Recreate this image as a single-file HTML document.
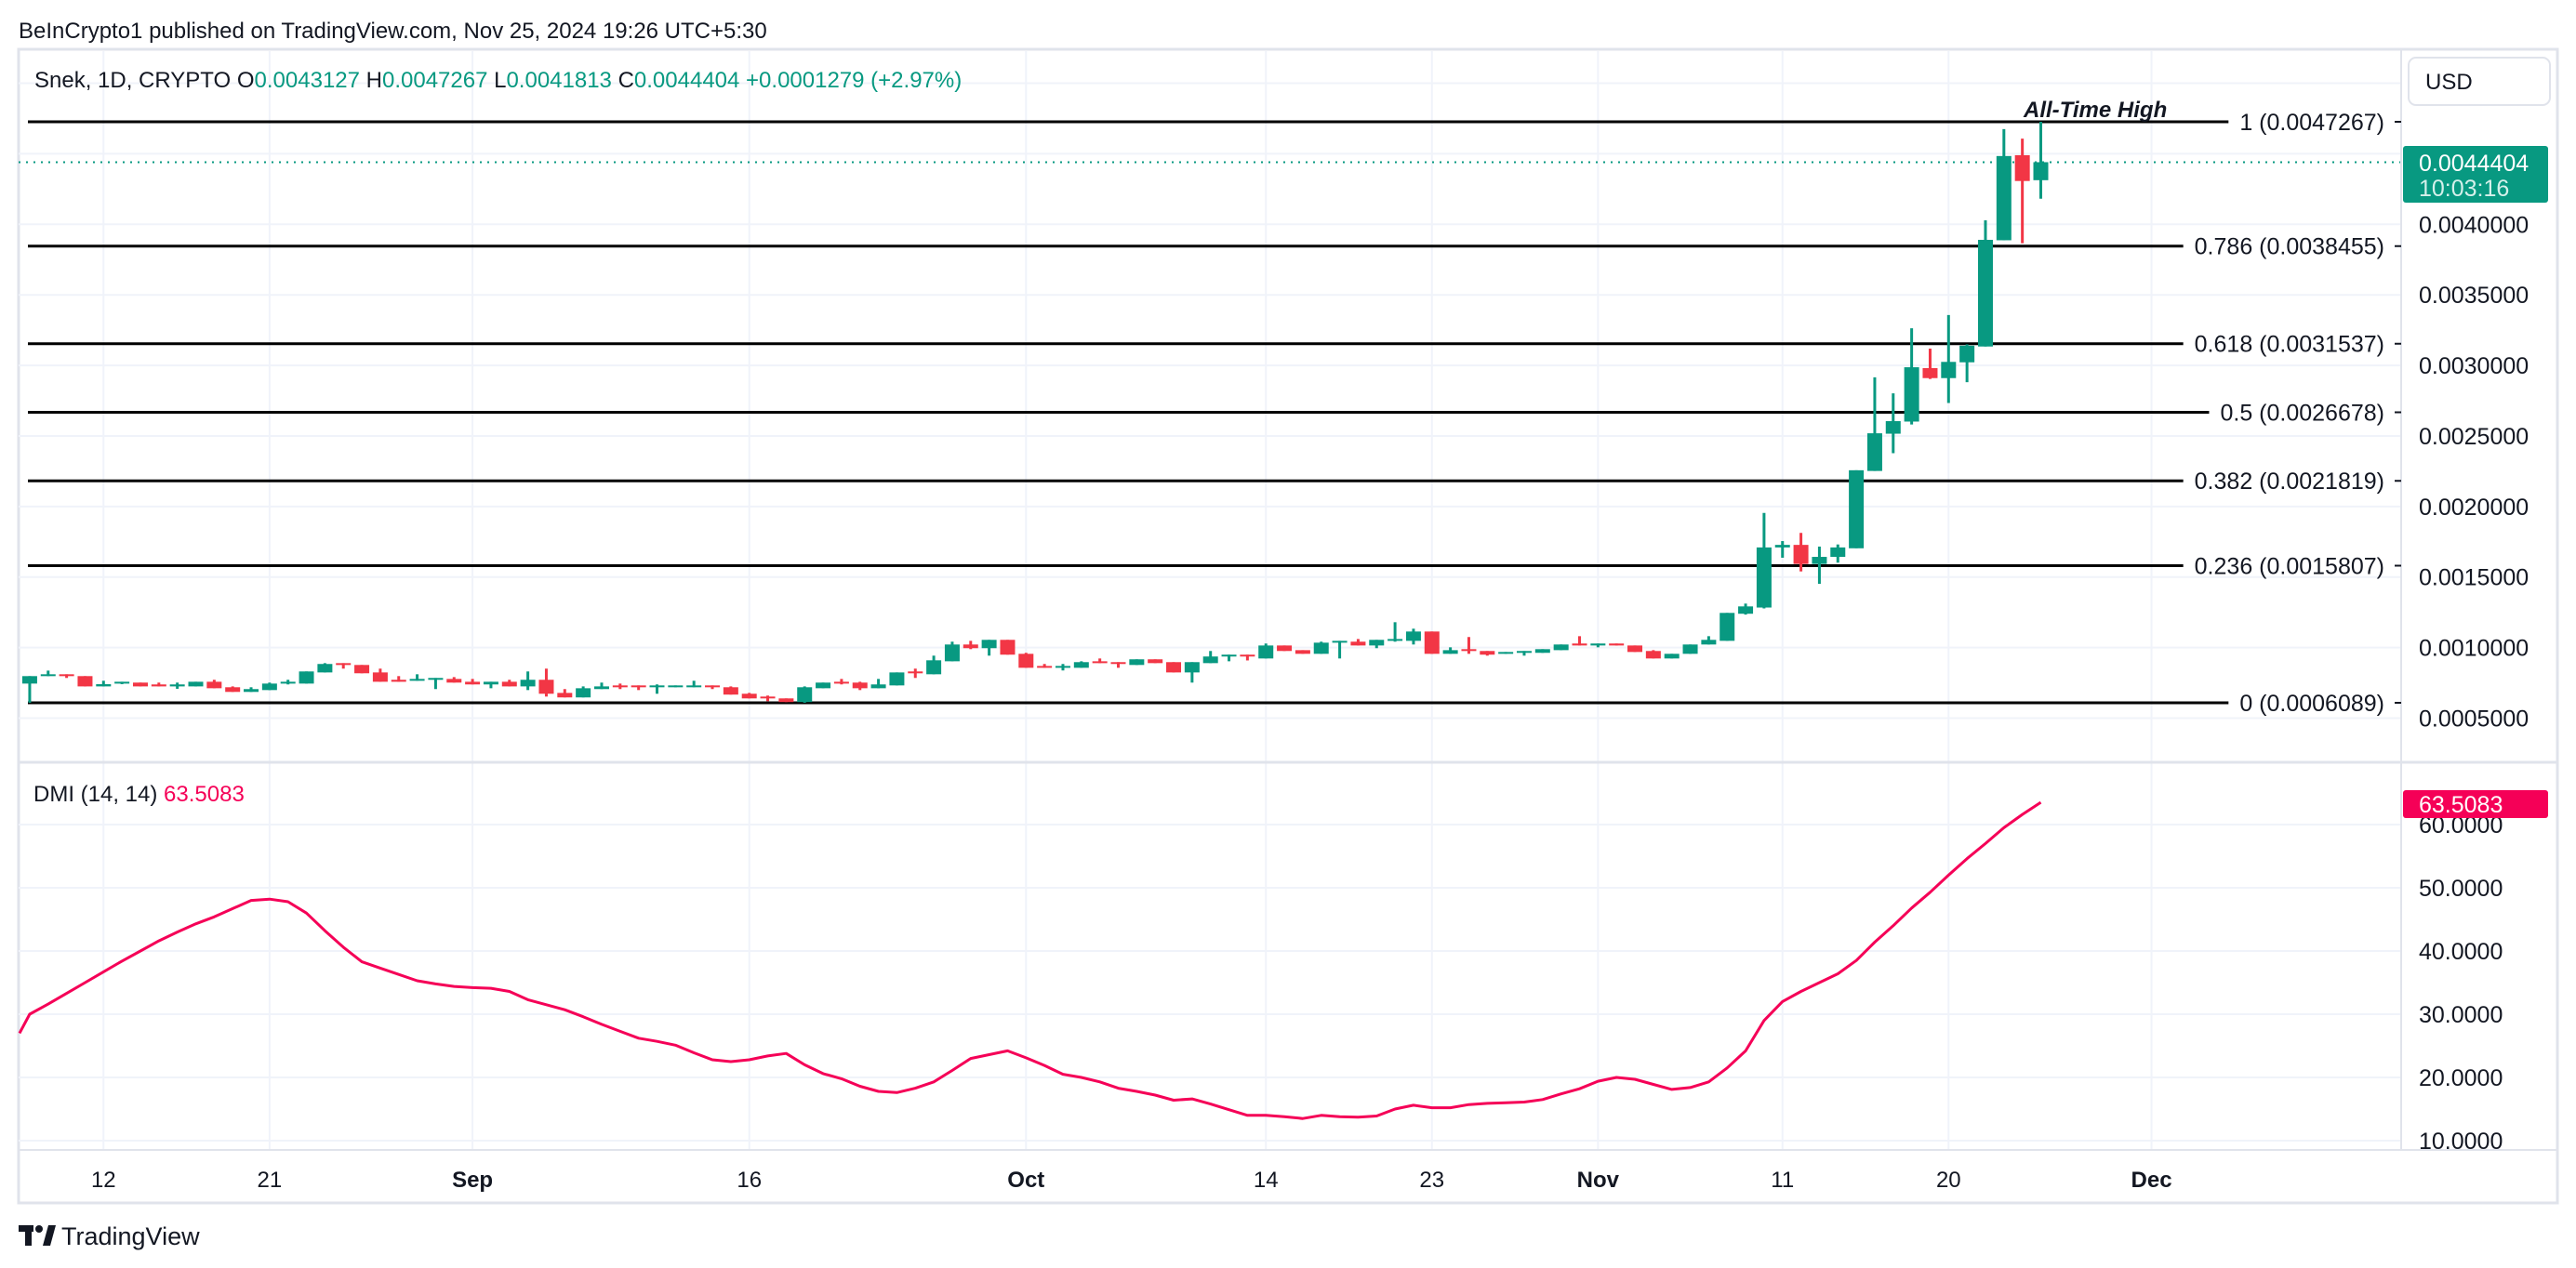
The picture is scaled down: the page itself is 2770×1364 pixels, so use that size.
<!DOCTYPE html>
<html><head><meta charset="utf-8"><title>Snek 1D chart</title>
<style>
html,body{margin:0;padding:0;background:#fff;width:2770px;height:1364px;overflow:hidden}
svg{display:block;font-family:"Liberation Sans",Arial,sans-serif}
</style></head>
<body>
<svg id="chart" width="2770" height="1364" viewBox="0 0 2770 1364" xmlns="http://www.w3.org/2000/svg">
<rect x="0" y="0" width="2770" height="1364" fill="#fff"/>
<text x="20" y="41" font-size="24" fill="#131722">BeInCrypto1 published on TradingView.com, Nov 25, 2024 19:26 UTC+5:30</text>
<rect x="20" y="53" width="2730" height="1241" fill="none" stroke="#e0e3eb" stroke-width="3"/>
<g id="grid"></g>
<line x1="20" y1="820" x2="2750" y2="820" stroke="#e0e3eb" stroke-width="3"/>
<line x1="2582" y1="53" x2="2582" y2="1237" stroke="#e0e3eb" stroke-width="2"/>
<line x1="20" y1="1237" x2="2750" y2="1237" stroke="#e0e3eb" stroke-width="2"/>
<g id="fibs"></g>
<g id="candles"></g>
<g id="dmi"></g>
<g id="axes"></g>
<text x="37" y="94" font-size="24" fill="#131722">Snek, 1D, CRYPTO  O<tspan fill="#089981">0.0043127</tspan>  H<tspan fill="#089981">0.0047267</tspan>  L<tspan fill="#089981">0.0041813</tspan>  C<tspan fill="#089981">0.0044404</tspan>  <tspan fill="#089981">+0.0001279 (+2.97%)</tspan></text>
<text x="2176" y="126" font-size="24" font-weight="bold" font-style="italic" fill="#131722">All-Time High</text>
<rect x="2590" y="62" width="152" height="51" rx="8" fill="#fff" stroke="#e0e3eb" stroke-width="2"/>
<text x="2608" y="96" font-size="24" fill="#131722">USD</text>
<rect x="2584" y="157" width="156" height="61" rx="3" fill="#089981"/>
<text x="2601" y="184" font-size="25" fill="#fff">0.0044404</text>
<text x="2601" y="211" font-size="25" fill="#d5f0ea">10:03:16</text>
<text x="36" y="862" font-size="24" fill="#131722">DMI (14, 14)  <tspan fill="#f50057">63.5083</tspan></text>
<rect x="2584" y="850" width="156" height="30" rx="3" fill="#f50057"/>
<text x="2601" y="874" font-size="25" fill="#fff">63.5083</text>
<g>
<rect x="20" y="1318" width="16" height="7" fill="#131722"/>
<rect x="27" y="1318" width="7" height="22" fill="#131722"/>
<circle cx="42" cy="1322" r="4" fill="#131722"/>
<polygon points="46,1340 52,1318 60,1318 54,1340" fill="#131722"/>
<text x="66" y="1339" font-size="27" fill="#131722">TradingView</text>
</g>
</svg>
<script>
const startDay = -4; // first candle offset (days from Aug 12)
const opens = [0.000745,0.000798,0.000811,0.000798,0.000725,0.000745,0.000752,0.000739,0.000725,0.000725,0.000758,0.000719,0.000686,0.000699,0.000745,0.000745,0.000824,0.000890,0.000877,0.000824,0.000772,0.000765,0.000772,0.000778,0.000758,0.000739,0.000758,0.000725,0.000772,0.000679,0.000647,0.000706,0.000732,0.000732,0.000719,0.000719,0.000719,0.000732,0.000719,0.000673,0.000653,0.000640,0.000614,0.000712,0.000758,0.000752,0.000712,0.000732,0.000831,
0.000811,0.000903,0.001022,0.000996,0.001055,0.000956,0.000870,0.000857,0.000857,0.000903,0.000897,0.000877,0.000917,0.000897,0.000824,0.000890,0.000937,0.000950,0.000923,0.001015,0.000982,0.000956,0.001035,0.001042,0.001015,0.001048,0.001048,0.001114,0.000956,0.000989,0.000976,0.000956,0.000963,0.000963,0.000982,0.001029,0.001015,0.001029,0.001015,0.000976,0.000923,0.000956,0.001022,0.001048,0.001240,0.001284,0.001710,0.001728,0.001593,0.001643,0.001704,0.002252,0.002516,0.002602,0.002981,0.002910,0.003022,0.003134,0.003887,0.004490,0.0043127];
const highs = [0.000798,0.000837,0.000811,0.000798,0.000765,0.000758,0.000752,0.000752,0.000752,0.000758,0.000772,0.000725,0.000719,0.000752,0.000772,0.000831,0.000890,0.000890,0.000877,0.000851,0.000798,0.000811,0.000785,0.000791,0.000778,0.000758,0.000772,0.000831,0.000851,0.000706,0.000725,0.000752,0.000745,0.000732,0.000739,0.000732,0.000765,0.000732,0.000725,0.000679,0.000660,0.000640,0.000725,0.000752,0.000778,0.000758,0.000778,0.000824,0.000851,
0.000943,0.001042,0.001048,0.001055,0.001055,0.000963,0.000884,0.000884,0.000903,0.000923,0.000897,0.000917,0.000917,0.000897,0.000897,0.000976,0.000950,0.000950,0.001029,0.001015,0.000982,0.001042,0.001048,0.001061,0.001055,0.001180,0.001134,0.001114,0.001002,0.001075,0.000976,0.000969,0.000976,0.000989,0.001022,0.001081,0.001029,0.001029,0.001015,0.000982,0.000956,0.001022,0.001081,0.001246,0.001312,0.001955,0.001755,0.001813,0.001716,0.001731,0.002257,0.002916,0.002802,0.003263,0.003119,0.003357,0.003149,0.004028,0.004675,0.004607,0.0047267];
const lows = [0.000609,0.000798,0.000785,0.000725,0.000725,0.000741,0.000725,0.000725,0.000708,0.000725,0.000712,0.000686,0.000686,0.000699,0.000739,0.000745,0.000824,0.000851,0.000818,0.000758,0.000758,0.000765,0.000706,0.000752,0.000739,0.000712,0.000725,0.000699,0.000653,0.000647,0.000647,0.000706,0.000706,0.000699,0.000673,0.000719,0.000719,0.000706,0.000667,0.000640,0.000620,0.000614,0.000609,0.000712,0.000739,0.000699,0.000712,0.000732,0.000785,
0.000811,0.000903,0.000989,0.000943,0.000950,0.000857,0.000857,0.000838,0.000857,0.000890,0.000857,0.000877,0.000890,0.000824,0.000752,0.000890,0.000903,0.000909,0.000923,0.000976,0.000956,0.000956,0.000923,0.001015,0.000996,0.001042,0.001022,0.000956,0.000956,0.000956,0.000943,0.000956,0.000943,0.000963,0.000982,0.001015,0.001002,0.001015,0.000969,0.000923,0.000923,0.000956,0.001022,0.001048,0.001234,0.001278,0.001637,0.001540,0.001452,0.001602,0.001704,0.002252,0.002378,0.002581,0.002904,0.002734,0.002881,0.003134,0.003887,0.003866,0.0041813];
const closes = [0.000798,0.000811,0.000798,0.000725,0.000741,0.000758,0.000725,0.000725,0.000739,0.000758,0.000712,0.000686,0.000706,0.000745,0.000758,0.000831,0.000884,0.000877,0.000818,0.000758,0.000758,0.000778,0.000785,0.000752,0.000739,0.000758,0.000725,0.000772,0.000673,0.000647,0.000712,0.000725,0.000719,0.000719,0.000732,0.000732,0.000732,0.000719,0.000667,0.000640,0.000640,0.000614,0.000719,0.000752,0.000745,0.000712,0.000739,0.000824,0.000818,
0.000910,0.001022,0.000996,0.001055,0.000950,0.000857,0.000857,0.000870,0.000897,0.000890,0.000884,0.000917,0.000890,0.000824,0.000897,0.000937,0.000950,0.000937,0.001015,0.000976,0.000956,0.001035,0.001048,0.001015,0.001055,0.001061,0.001114,0.000956,0.000982,0.000976,0.000950,0.000969,0.000976,0.000989,0.001022,0.001015,0.001029,0.001015,0.000969,0.000923,0.000956,0.001022,0.001055,0.001246,0.001292,0.001710,0.001728,0.001593,0.001643,0.001710,0.002257,0.002519,0.002605,0.002987,0.002910,0.003025,0.003140,0.003890,0.004484,0.004307,0.0044404];
const dmiStart = -5;
const dmiValues = [27.0,30.0,31.6,33.3,35.0,36.7,38.4,40.0,41.6,43.0,44.3,45.4,46.7,48.0,48.2,47.8,46.0,43.2,40.6,38.3,37.3,36.3,35.3,34.8,34.4,34.2,34.1,33.6,32.3,31.5,30.7,29.6,28.4,27.3,26.2,25.7,25.1,23.9,22.8,22.5,22.8,23.4,23.8,22.0,20.6,19.8,18.6,17.8,17.6,18.3,19.3,21.1,23.0,23.6,24.2,23.1,21.9,20.5,20.0,19.3,18.3,17.8,17.2,16.4,16.6,15.8,14.9,14.0,14.0,13.8,13.5,14.0,13.8,13.7,13.9,15.0,15.6,15.2,15.2,15.7,15.9,16.0,16.1,16.5,17.4,18.2,19.4,20.0,19.7,18.9,18.1,18.4,19.3,21.5,24.2,29.0,32.0,33.6,35.0,36.4,38.5,41.4,44.0,46.8,49.3,52.0,54.6,57.0,59.5,61.6,63.5083];
const fibRatios = ["1","0.786","0.618","0.5","0.382","0.236","0"];
const fibPrices = [0.0047267,0.0038455,0.0031537,0.0026678,0.0021819,0.0015807,0.0006089];
const priceTicks = [0.0040,0.0035,0.0030,0.0025,0.0020,0.0015,0.0010,0.0005];
const priceTickLabels = ["0.0040000","0.0035000","0.0030000","0.0025000","0.0020000","0.0015000","0.0010000","0.0005000"];
const dmiTicks = [60,50,40,30,20,10];
const dmiTickLabels = ["60.0000","50.0000","40.0000","30.0000","20.0000","10.0000"];
const timeLabels = ["12","21","Sep","16","Oct","14","23","Nov","11","20","Dec"];
const timeDays = [0,9,20,35,50,63,72,81,91,100,111];
const lastPrice = 0.0044404;

const NS="http://www.w3.org/2000/svg";
const xDay = d => 111.3 + 19.84*d;
const yPrice = p => 131 + (0.0047267 - p)*151780;
const yDmi = v => 887 + (60 - v)*6.8;
function mk(tag, attrs, parent){const e=document.createElementNS(NS,tag);for(const k in attrs)e.setAttribute(k,attrs[k]);parent.appendChild(e);return e;}

const grid=document.getElementById('grid');
timeDays.forEach((d,i)=>{
  const l=mk('line',{x1:xDay(d),x2:xDay(d),y1:55,y2:1237,stroke:'#f0f3fa','stroke-width':2},grid);
  
  
});
[0.0050].concat(priceTicks).concat([0.0045]).forEach(p=>{
  const l=mk('line',{x1:20,x2:2582,y1:yPrice(p),y2:yPrice(p),stroke:'#f0f3fa','stroke-width':2},grid);
  
  
});
dmiTicks.forEach(v=>{
  const l=mk('line',{x1:20,x2:2582,y1:yDmi(v),y2:yDmi(v),stroke:'#f0f3fa','stroke-width':2},grid);
  
  
});

const axes=document.getElementById('axes');
priceTicks.forEach((p,i)=>{
  const t=mk('text',{x:2601,y:yPrice(p)+9,'font-size':25,fill:'#131722'},axes);
  t.textContent=priceTickLabels[i];
  
  
});
dmiTicks.forEach((v,i)=>{
  const t=mk('text',{x:2601,y:yDmi(v)+9,'font-size':25,fill:'#131722'},axes);
  t.textContent=dmiTickLabels[i];
  
  
});
timeLabels.forEach((s,i)=>{
  const t=mk('text',{x:xDay(timeDays[i]),y:1277,'font-size':24,fill:'#131722','text-anchor':'middle','font-weight':isNaN(+s)?'bold':'normal'},axes);
  t.textContent=s;
  
  
});

// current price dotted line
const cl=mk('line',{x1:20,x2:2582,y1:yPrice(lastPrice),y2:yPrice(lastPrice),stroke:'#089981','stroke-width':2,'stroke-dasharray':'2 6'},grid);



// fib levels
const fibs=document.getElementById('fibs');
fibPrices.forEach((p,i)=>{
  const y=yPrice(p);
  const t=mk('text',{x:2564,y:y+9,'font-size':25,fill:'#131722','text-anchor':'end'},fibs);
  t.textContent=fibRatios[i]+' ('+p.toFixed(7)+')';
  
  
  const w=t.getComputedTextLength ? t.getComputedTextLength() : 200;
  const l=mk('line',{x1:30,x2:2564-w-12,y1:y,y2:y,stroke:'#000','stroke-width':3},fibs);
  
  
  const tk=mk('line',{x1:2575,x2:2582,y1:y,y2:y,stroke:'#131722','stroke-width':2},fibs);
  
  
});

// candles
const cg=document.getElementById('candles');
opens.forEach((o,i)=>{
  const c=closes[i], x=xDay(startDay+i);
  const col = c>=o ? '#089981' : '#f23645';
  const w=mk('line',{x1:x,x2:x,y1:yPrice(highs[i]),y2:yPrice(lows[i]),stroke:col,'stroke-width':3},cg);
  
  
  const top=yPrice(Math.max(o,c)), bot=yPrice(Math.min(o,c));
  const b=mk('rect',{x:x-8,y:top,width:16,height:Math.max(bot-top,2),fill:col},cg);
  
  
});

// DMI line
const dg=document.getElementById('dmi');
const pts=dmiValues.map((v,i)=>{let x=xDay(dmiStart+i);if(x<21)x=21;return x.toFixed(1)+','+yDmi(v).toFixed(1);}).join(' ');
const pl=mk('polyline',{points:pts,fill:'none',stroke:'#f50057','stroke-width':3,'stroke-linejoin':'round'},dg);


</script>
</body></html>
